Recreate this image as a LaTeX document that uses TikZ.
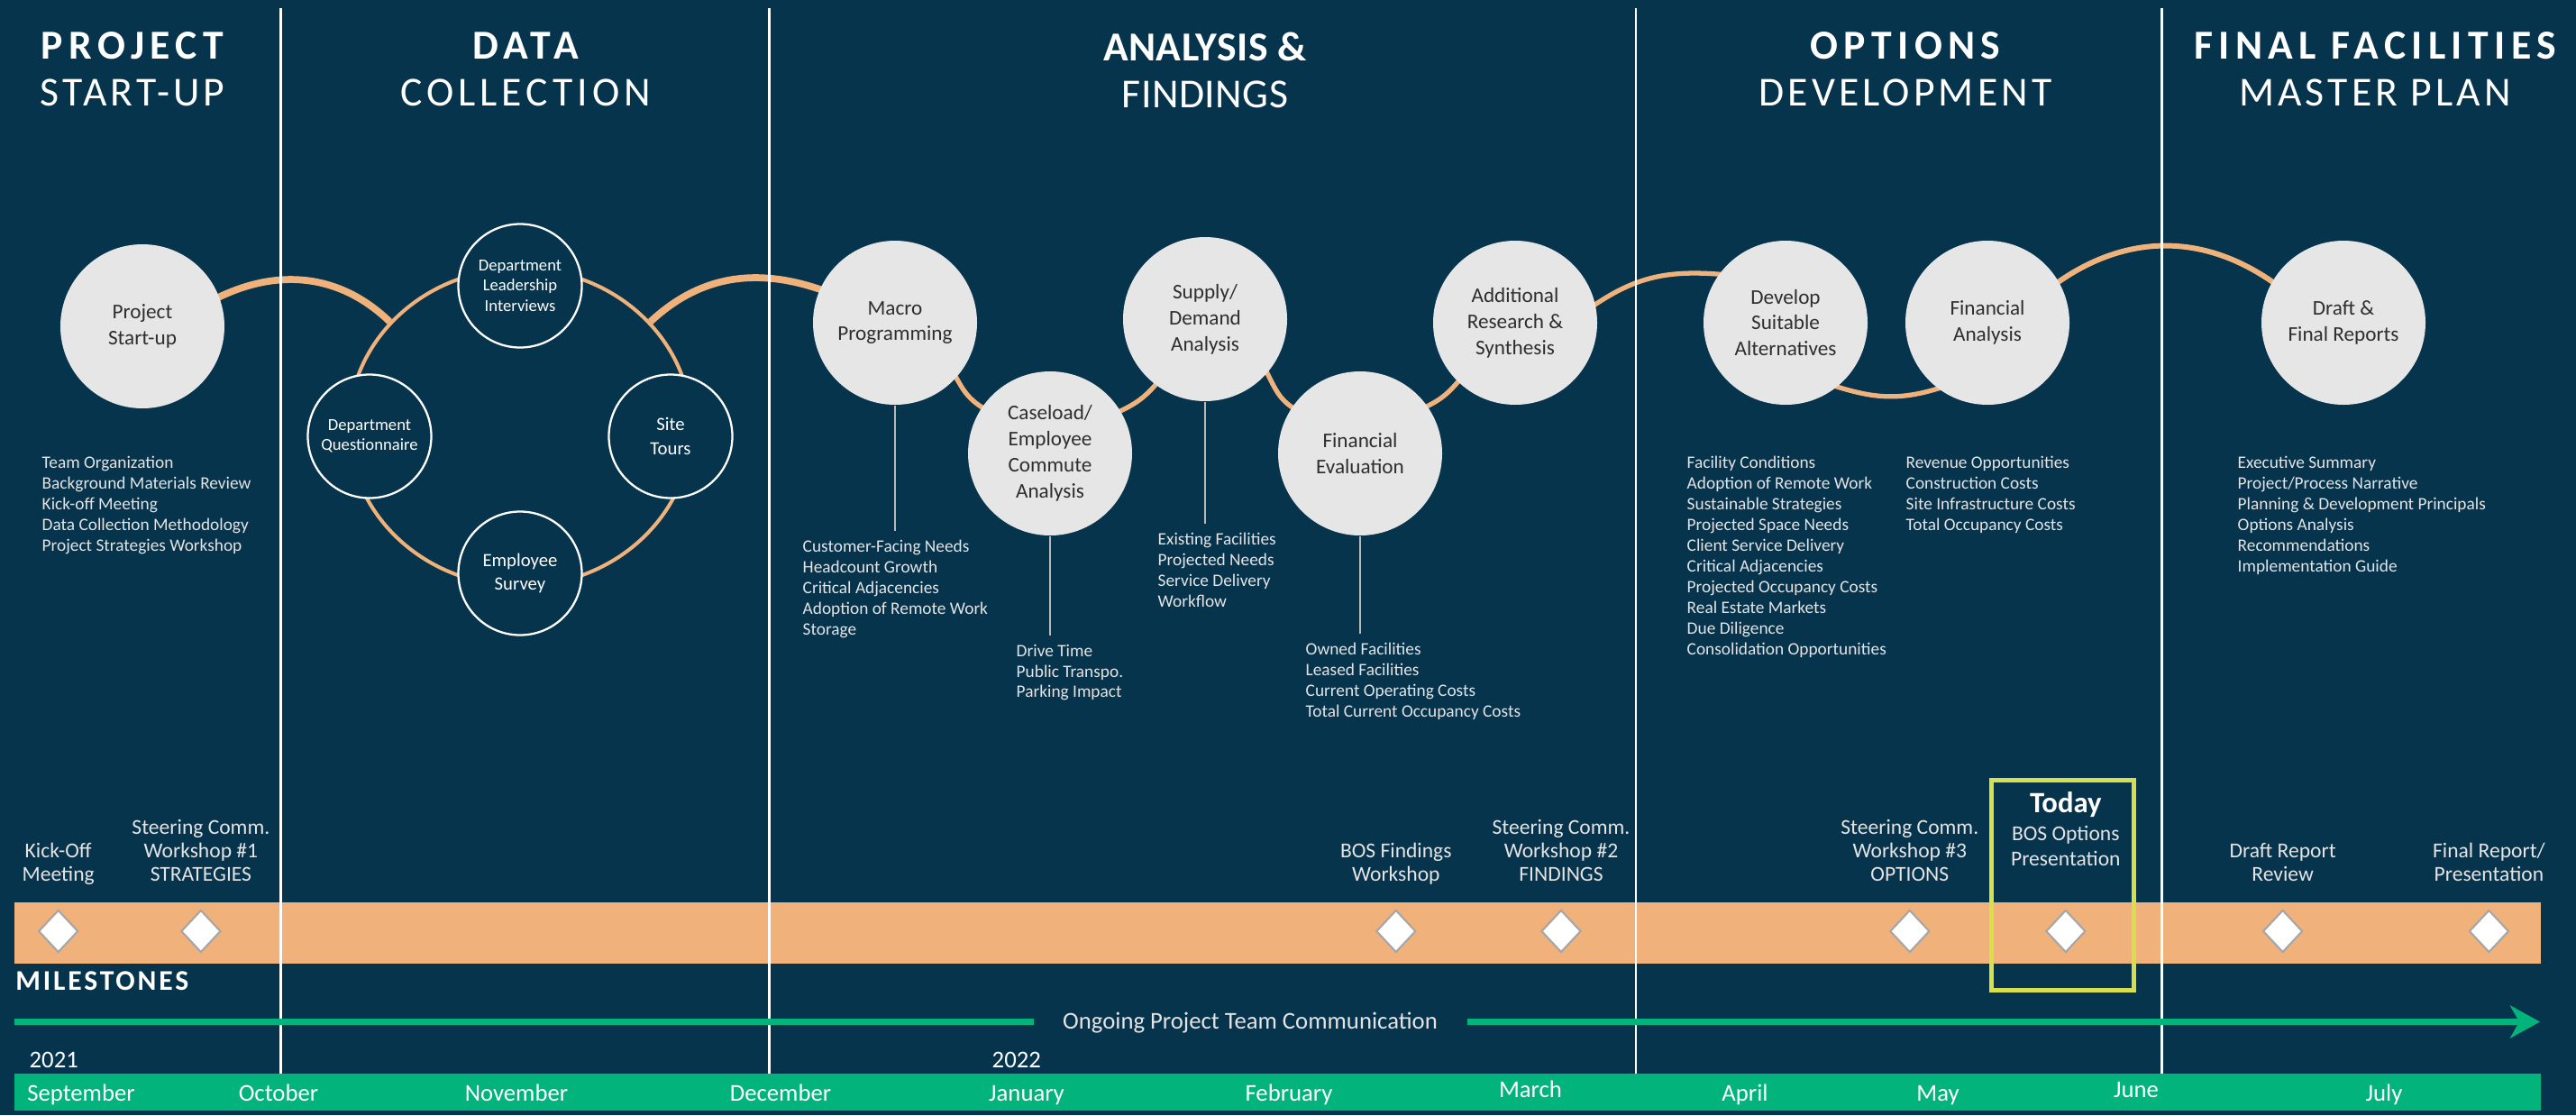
\documentclass[tikz,border=0pt]{standalone}
\usepackage{fontspec}
\setmainfont{Carlito}
\usepackage{xcolor}
\usepackage{tikz}
\usetikzlibrary{positioning,shapes.geometric,arrows.meta}

\definecolor{navy}{HTML}{06344D}
\definecolor{peach}{HTML}{F0B27A}
\definecolor{mint}{HTML}{02B47B}
\definecolor{shell}{HTML}{E6E6E6}
\definecolor{ink}{HTML}{2E2E2E}
\definecolor{lime}{HTML}{D8DF4C}
\definecolor{haze}{HTML}{E4E4E4}
\pgfdeclarelayer{back}
\pgfdeclarelayer{links}
\pgfsetlayers{back,links,main}

\begin{document}
\begin{tikzpicture}[%
	phase/.style={anchor=north, align=center, inner sep=0pt, text=white,
		font=\fontsize{13}{14.8}\selectfont\addfontfeature{LetterSpace=9}},
	stage/.style={circle, fill=shell, text=ink, minimum size=1.82cm, inner sep=0pt,
		align=center, font=\fontsize{6.6}{8.2}\selectfont},
	collect/.style={circle, draw=white, line width=0.65pt, fill=navy, text=white,
		minimum size=1.37cm, inner sep=0pt, align=center, font=\fontsize{5.3}{6.4}\selectfont},
	items/.style={anchor=north west, align=left, inner sep=0pt, text=haze,
		font=\fontsize{5.5}{6.54}\selectfont},
	stem/.style={draw=gray!55, line width=0.45pt},
	wave/.style={draw=peach, line width=1.5pt, shorten <=-2pt, shorten >=-2pt},
	divider/.style={draw=white, line width=0.75pt},
	gem/.style={diamond, draw=gray!70, fill=white, line width=0.6pt,
		minimum width=4.4mm, minimum height=4.7mm, inner sep=0pt},
	event/.style={align=center, inner sep=0pt, text=haze,
		font=\fontsize{6.7}{7.3}\selectfont, execute at end node=\strut},
	month/.style={anchor=base, inner sep=0pt, text=white, font=\fontsize{7.6}{9}\selectfont}]

	\useasboundingbox (0,0) rectangle (28.58,12.37);
	\begin{pgfonlayer}{back}
		\fill[navy] (0,0) rectangle (28.58,12.37);
	\end{pgfonlayer}

	\fill[peach] (0.16,1.68) rectangle (28.19,2.36);
	\fill[mint] (0.16,0.05) rectangle (28.19,0.46);
	\draw[divider] (3.116,12.28) -- (3.116,0.46);
	\draw[divider] (8.535,12.28) -- (8.535,0.46);
	\draw[divider] (18.15,12.28) -- (18.15,0.46);
	\draw[divider] (23.985,12.28) -- (23.985,0.46);

	\node[phase] (ph1) at (1.47,12.02) {{\bfseries\addfontfeature{LetterSpace=14}PROJECT}\\START-UP};
	\node[phase] (ph2) at (5.83,12.02) {{\bfseries\addfontfeature{LetterSpace=14}DATA}\\{\addfontfeature{LetterSpace=11}COLLECTION}};
	\node[phase] (ph3) at (13.37,12.02) {{\bfseries\addfontfeature{LetterSpace=1}ANALYSIS \&}\\{\addfontfeature{LetterSpace=1}FINDINGS}};
	\node[phase] (ph4) at (21.14,12.02) {{\bfseries\addfontfeature{LetterSpace=14}OPTIONS}\\DEVELOPMENT};
	\node[phase] (ph5) at (26.35,12.02) {{\bfseries\addfontfeature{LetterSpace=14}FINAL FACILITIES}\\MASTER PLAN};

	\node[stage] (startup) at (1.58,8.75) {Project\\Start-up};
	\node[ellipse, draw=peach, line width=1.15pt, minimum width=3.80cm, minimum height=3.52cm,
		inner sep=0pt] (ring) at (5.77,7.63) {};
	\node[collect] (leadership) at (5.77,9.20) {Department\\Leadership\\Interviews};
	\node[collect] (questionnaire) at (4.10,7.53) {Department\\Questionnaire};
	\node[collect, font=\fontsize{5.9}{7.5}\selectfont] (tours) at (7.44,7.53) {Site\\Tours};
	\node[collect, font=\fontsize{5.9}{7.5}\selectfont] (survey) at (5.77,6.01) {Employee\\Survey};
	\node[stage] (macro) at (9.93,8.79) {Macro\\Programming};
	\node[stage] (caseload) at (11.65,7.34) {Caseload/\\Employee\\Commute\\Analysis};
	\node[stage] (supply) at (13.37,8.83) {Supply/\\Demand\\Analysis};
	\node[stage] (fineval) at (15.09,7.34) {Financial\\Evaluation};
	\node[stage] (research) at (16.81,8.79) {Additional\\Research \&\\Synthesis};
	\node[stage] (develop) at (19.81,8.79) {Develop\\Suitable\\Alternatives};
	\node[stage] (finana) at (22.05,8.79) {Financial\\Analysis};
	\node[stage] (reports) at (26.00,8.79) {Draft \&\\Final Reports};

	\begin{pgfonlayer}{links}
		\draw[wave, line width=2.2pt, shorten >=0pt] (startup.21) to[out=27,in=136] (ring.141);
		\draw[wave, line width=2.2pt, shorten <=0pt] (ring.39) to[out=43,in=160] (macro.156);
		\draw[wave] (macro.-42) to[out=-62,in=150] (caseload.146);
		\draw[wave] (caseload.31) to[out=25,in=-130] (supply.-127);
		\draw[wave] (supply.-41) to[out=-62,in=150] (fineval.146);
		\draw[wave] (fineval.35) to[out=25,in=-130] (research.-134);
		\draw[wave] (research.13) to[out=35,in=175] (develop.144);
		\draw[wave] (develop.-51) to[out=-18,in=-162] (finana.-127);
		\draw[wave, line width=1.7pt] (finana.30) to[out=36,in=144] (reports.150);
	\end{pgfonlayer}

	\node[items] (startlist) at (0.46,7.32) {Team Organization\\Background Materials Review\\Kick-off Meeting\\Data Collection Methodology\\Project Strategies Workshop};
	\node[items] (macrolist) at (8.90,6.39) {Customer-Facing Needs\\Headcount Growth\\Critical Adjacencies\\Adoption of Remote Work\\Storage};
	\node[items] (caselist) at (11.27,5.23) {Drive Time\\Public Transpo.\\Parking Impact};
	\node[items] (supplylist) at (12.84,6.47) {Existing Facilities\\Projected Needs\\Service Delivery\\Workflow};
	\node[items] (evallist) at (14.48,5.25) {Owned Facilities\\Leased Facilities\\Current Operating Costs\\Total Current Occupancy Costs};
	\node[items] (developlist) at (18.71,7.32) {Facility Conditions\\Adoption of Remote Work\\Sustainable Strategies\\Projected Space Needs\\Client Service Delivery\\Critical Adjacencies\\Projected Occupancy Costs\\Real Estate Markets\\Due Diligence\\Consolidation Opportunities};
	\node[items] (finanalist) at (21.14,7.32) {Revenue Opportunities\\Construction Costs\\Site Infrastructure Costs\\Total Occupancy Costs};
	\node[items] (reportlist) at (24.82,7.32) {Executive Summary\\Project/Process Narrative\\Planning \& Development Principals\\Options Analysis\\Recommendations\\Implementation Guide};

	\draw[stem] (macro.south) -- ([yshift=0.9mm]macro |- macrolist.north);
	\draw[stem] (caseload.south) -- ([yshift=0.9mm]caseload |- caselist.north);
	\draw[stem] (supply.south) -- ([yshift=0.9mm]supply |- supplylist.north);
	\draw[stem] (fineval.south) -- ([yshift=0.9mm]fineval |- evallist.north);

	\node[gem] (m1) at (0.647,2.04) {};
	\node[gem] (m2) at (2.229,2.04) {};
	\node[gem] (m3) at (15.488,2.04) {};
	\node[gem] (m4) at (17.32,2.04) {};
	\node[gem] (m5) at (21.188,2.04) {};
	\node[gem] (m6) at (22.918,2.04) {};
	\node[gem] (m7) at (25.326,2.04) {};
	\node[gem] (m8) at (27.614,2.04) {};
	\node[event, above=2.3mm of m1] (e1) {Kick-Off\\Meeting};
	\node[event, above=2.3mm of m2] (e2) {Steering Comm.\\Workshop \#1\\STRATEGIES};
	\node[event, above=2.3mm of m3] (e3) {BOS Findings\\Workshop};
	\node[event, above=2.3mm of m4] (e4) {Steering Comm.\\Workshop \#2\\FINDINGS};
	\node[event, above=2.3mm of m5] (e5) {Steering Comm.\\Workshop \#3\\OPTIONS};
	\node[event, above=3.9mm of m6, font=\fontsize{6.7}{8}\selectfont] (e6) {{\bfseries\color{white}\fontsize{9.3}{10}\selectfont Today}\\[0.8pt]BOS Options\\Presentation};
	\node[event, above=2.3mm of m7] (e7) {Draft Report\\Review};
	\node[event, above=2.3mm of m8] (e8) {Final Report/\\Presentation};
	\draw[lime, line width=1.4pt] (22.095,1.385) rectangle (23.675,3.715);

	\node[anchor=base west, inner sep=0pt, text=white,
		font=\fontsize{9}{10}\selectfont\bfseries\addfontfeature{LetterSpace=9}] (milestones) at (0.166,1.39) {MILESTONES};

	\node[anchor=base, inner xsep=3.2mm, inner ysep=0pt, text=haze, font=\fontsize{7.6}{9}\selectfont] (comm) at (13.87,0.953) {Ongoing Project Team Communication};
	\coordinate (commL) at (0.16,1.035);
	\coordinate (commR) at (28.18,1.035);
	\draw[mint, line width=2pt] (commL) -- (commL -| comm.west);
	\draw[mint, line width=2pt, -{Stealth[length=3.3mm,width=3.6mm,inset=1mm]}] (commL -| comm.east) -- (commR);

	\node[anchor=base west, inner sep=0pt, text=white, font=\fontsize{7.6}{9}\selectfont] (y2021) at (0.32,0.527) {2021};
	\node[anchor=base west, inner sep=0pt, text=white, font=\fontsize{7.6}{9}\selectfont] (y2022) at (11.00,0.527) {2022};
	\node[month] (sep) at (0.90,0.153) {September};
	\node[month] (oct) at (3.09,0.153) {October};
	\node[month] (nov) at (5.73,0.153) {November};
	\node[month] (dec) at (8.66,0.153) {December};
	\node[month] (jan) at (11.39,0.153) {January};
	\node[month] (feb) at (14.30,0.153) {February};
	\node[month] (mar) at (16.98,0.20) {March};
	\node[month] (apr) at (19.36,0.153) {April};
	\node[month] (may) at (21.50,0.153) {May};
	\node[month] (jun) at (23.70,0.20) {June};
	\node[month] (jul) at (26.45,0.153) {July};
\end{tikzpicture}
\end{document}
